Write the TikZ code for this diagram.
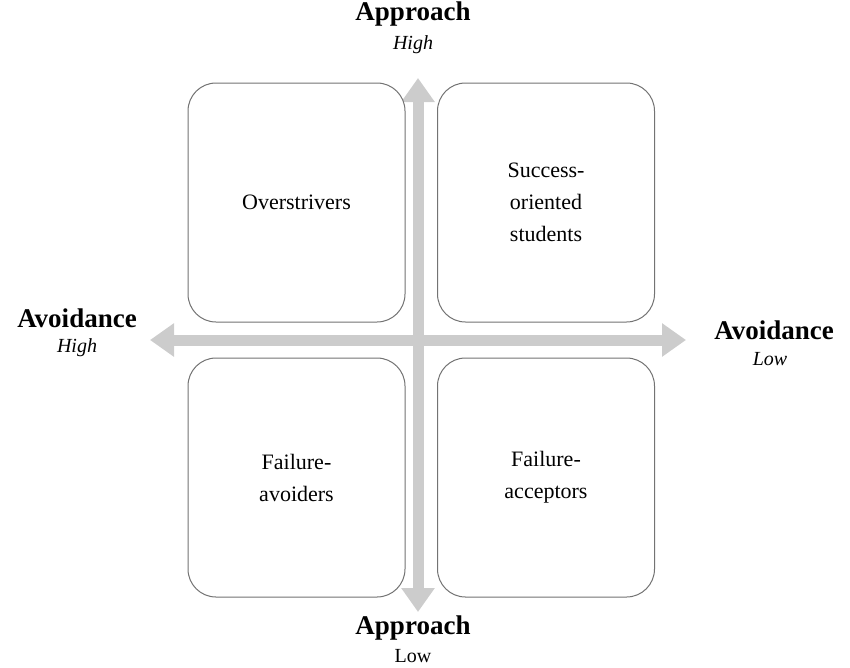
\documentclass[tikz,border=0pt]{standalone}
\usepackage{fontspec}
\setmainfont{Liberation Serif}
\usetikzlibrary{arrows.meta}
\tikzset{
  quad/.style={rectangle, draw=black!55, line width=1pt, rounded corners=28pt, minimum width=217pt, minimum height=239pt, align=center, font=\fontsize{22}{32}\selectfont},
  axis/.style={draw=black!20, line width=11pt, -{Triangle[length=24pt, width=32pt]}},
  head/.style={font=\fontsize{27}{30}\selectfont\bfseries},
  sub/.style={font=\fontsize{20}{22}\selectfont}
}
\begin{document}
\begin{tikzpicture}[x=1pt, y=-1pt]
  \useasboundingbox (0,0) rectangle (850,667);
  % Axes
  \coordinate (C) at (418,340);
  \coordinate (T) at (418,78);
  \coordinate (B) at (418,612);
  \coordinate (L) at (150,340);
  \coordinate (R) at (686,340);
  \draw[axis] (C) -- (T);
  \draw[axis] (C) -- (B);
  \draw[axis] (C) -- (L);
  \draw[axis] (C) -- (R);
  % Quadrants
  \node (OS) [quad, fill=white] at (296.5,202.5) {Overstrivers};
  \node (SO) [quad, fill=white] at (546,202.5) {Success-\\oriented\\students};
  \node (FAV) [quad, fill=white] at (296.5,477.5) {Failure-\\avoiders};
  \node (FAC) [quad, fill=white] at (546,477.5) {Failure-\\acceptors};
  % Axis labels
  \node (apT) [head] at (413,14) {Approach};
  \node (hiT) [sub] at (413,45) {\itshape High};
  \node (apB) [head] at (413,628) {Approach};
  \node (loB) [sub] at (413,656) {Low};
  \node (avL) [head] at (77,318) {Avoidance};
  \node (hiL) [sub] at (77,348) {\itshape High};
  \node (avR) [head] at (774,330) {Avoidance};
  \node (loR) [sub] at (770,359) {\itshape Low};
\end{tikzpicture}
\end{document}
